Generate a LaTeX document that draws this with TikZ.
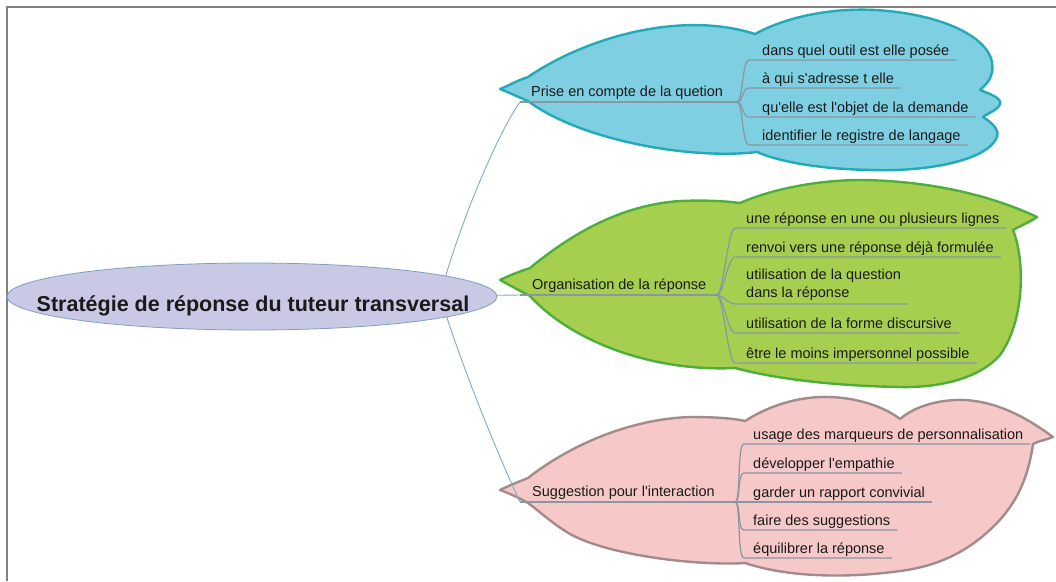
\documentclass[tikz,border=0pt]{standalone}
\usepackage{fontspec}
\setmainfont{Liberation Sans}[Ligatures=TeXOff]
\usetikzlibrary{shapes.geometric,calc}
\definecolor{bluefill}{HTML}{7DCFE1}
\definecolor{bluebd}{HTML}{22AAB8}
\definecolor{greenfill}{HTML}{A7CF4F}
\definecolor{greenbd}{HTML}{4EAE3C}
\definecolor{pinkfill}{HTML}{F6C8C8}
\definecolor{pinkbd}{HTML}{A38B8B}
\definecolor{lilac}{HTML}{C9C9E5}
\definecolor{lilacbd}{HTML}{7F9FC4}
\definecolor{connc}{HTML}{84A9C4}
\definecolor{ulc}{HTML}{8A96A2}
\definecolor{txtc}{HTML}{1A1A1A}
\definecolor{framec}{HTML}{808080}
\begin{document}
\begin{tikzpicture}[x=1pt,y=-1pt,
  txt/.style={font=\fontsize{14.5}{18}\selectfont, text=txtc, inner sep=0pt, anchor=base west},
  uline/.style={draw=ulc, line width=1.2pt},
  conn/.style={draw=connc, line width=0.9pt},
  blob/.style={line width=2.4pt, line join=round}]
\useasboundingbox (0,0) rectangle (1056,581);
% frame
\draw[framec, line width=1.5pt] (7,581) -- (7,7) -- (1056,7);

% blobs
\draw[blob, draw=bluebd, fill=bluefill]
 (500,89) .. controls (508,86) and (516,81) .. (528,77)
 .. controls (585,38) and (680,10) .. (755,34)
 .. controls (790,15) and (835,8) .. (875,10)
 .. controls (945,14) and (998,40) .. (992,72)
 .. controls (990,82) and (984,86) .. (980,90)
 .. controls (990,94) and (1002,98) .. (1000,104)
 .. controls (998,110) and (988,113) .. (983,117)
 .. controls (992,123) and (1001,130) .. (996,139)
 .. controls (985,160) and (930,172) .. (870,170)
 .. controls (820,169) and (780,162) .. (757,152)
 .. controls (690,160) and (580,140) .. (528,101)
 .. controls (516,96) and (508,92) .. (500,89) -- cycle;

\draw[blob, draw=greenbd, fill=greenfill]
 (500,280) .. controls (508,276) and (518,272) .. (530,268)
 .. controls (570,235) and (620,205) .. (680,201)
 .. controls (705,200) and (725,201) .. (740,203)
 .. controls (775,188) and (820,180) .. (862,180)
 .. controls (930,181) and (990,195) .. (1037,217)
 .. controls (1030,222) and (1020,226) .. (1013,230)
 .. controls (1025,260) and (1025,320) .. (1000,355)
 .. controls (980,378) and (940,388) .. (900,387)
 .. controls (840,386) and (780,380) .. (735,368)
 .. controls (650,372) and (570,340) .. (530,296)
 .. controls (518,290) and (508,284) .. (500,280) -- cycle;

\draw[blob, draw=pinkbd, fill=pinkfill]
 (500,490) .. controls (508,486) and (518,482) .. (528,478)
 .. controls (570,445) and (630,419) .. (690,417)
 .. controls (712,417) and (732,418) .. (745,421)
 .. controls (770,405) and (800,396) .. (830,397)
 .. controls (860,398) and (886,408) .. (900,419)
 .. controls (915,406) and (940,399) .. (965,400)
 .. controls (1000,402) and (1030,420) .. (1053,437)
 .. controls (1046,440) and (1038,441) .. (1033,444)
 .. controls (1028,480) and (1015,505) .. (995,525)
 .. controls (970,550) and (940,566) .. (900,571)
 .. controls (850,578) and (790,578) .. (745,563)
 .. controls (700,566) and (610,556) .. (570,534)
 .. controls (550,522) and (538,510) .. (528,503)
 .. controls (518,497) and (508,493) .. (500,490) -- cycle;

% anchor coordinates
\coordinate (rootR) at (440,296);
\coordinate (bL) at (520,102);
\coordinate (bB) at (737,102);
\coordinate (gL) at (520,295);
\coordinate (gB) at (717,295);
\coordinate (pL) at (520,502);
\coordinate (pB) at (735,502);

% connectors from root (drawn under the root ellipse)
\draw[conn] (rootR) .. controls (462,215) and (500,130) .. (bL);
\draw[conn] (rootR) .. controls (466,380) and (505,470) .. (pL);
\draw[conn] (rootR) -- (gL);

% root
\node[ellipse, draw=lilacbd, fill=lilac, line width=0.8pt, minimum width=490pt, minimum height=67pt, inner sep=0pt] (root) at (252,296.5) {};
\node[font=\bfseries\fontsize{21.5}{24}\selectfont, text=txtc, inner sep=0pt, anchor=base] (roottxt) at (253,311) {Stratégie de réponse du tuteur transversal};

% parents
\node[txt] (b0) at (531,96) {Prise en compte de la quetion};
\node[txt] (g0) at (532,289) {Organisation de la réponse};
\node[txt] (p0) at (532,496) {Suggestion pour l'interaction};
\draw[uline] (bL) -- (bB);
\draw[uline] (gL) -- (gB);
\draw[uline] (pL) -- (pB);

% blue children
\node[txt] (b1) at (762,55) {dans quel outil est elle posée};
\node[txt] (b2) at (762,83) {à qui s'adresse t elle};
\node[txt] (b3) at (762,112) {qu'elle est l'objet de la demande};
\node[txt] (b4) at (762,140) {identifier le registre de langage};
\foreach \c in {b1,b2,b3,b4}{
  \draw[uline] (bB) .. controls +(6,0) and +(-7,0) .. ($(\c.base west)+(-13,5)$) -- ($(\c.base east)+(7,5)$);
}

% green children
\node[txt] (g1) at (746,223) {une réponse en une ou plusieurs lignes};
\node[txt] (g2) at (746,252) {renvoi vers une réponse déjà formulée};
\node[txt, anchor=south west, align=left] (g3) at (746,301) {utilisation de la question\\dans la réponse};
\node[txt] (g4) at (746,328) {utilisation de la forme discursive};
\node[txt] (g5) at (746,358) {être le moins impersonnel possible};
\foreach \c in {g1,g2,g4,g5}{
  \draw[uline] (gB) .. controls +(6,0) and +(-7,0) .. ($(\c.base west)+(-11,5)$) -- ($(\c.base east)+(7,5)$);
}
\draw[uline] (gB) .. controls +(6,0) and +(-7,0) .. ($(g3.south west)+(-11,3)$) -- ($(g3.south east)+(7,3)$);

% pink children
\node[txt] (p1) at (753,439) {usage des marqueurs de personnalisation};
\node[txt] (p2) at (753,468) {développer l'empathie};
\node[txt] (p3) at (753,497) {garder un rapport convivial};
\node[txt] (p4) at (753,525) {faire des suggestions};
\node[txt] (p5) at (753,553) {équilibrer la réponse};
\foreach \c in {p1,p2,p3,p4,p5}{
  \draw[uline] (pB) .. controls +(6,0) and +(-7,0) .. ($(\c.base west)+(-9,5)$) -- ($(\c.base east)+(7,5)$);
}
\end{tikzpicture}
\end{document}
